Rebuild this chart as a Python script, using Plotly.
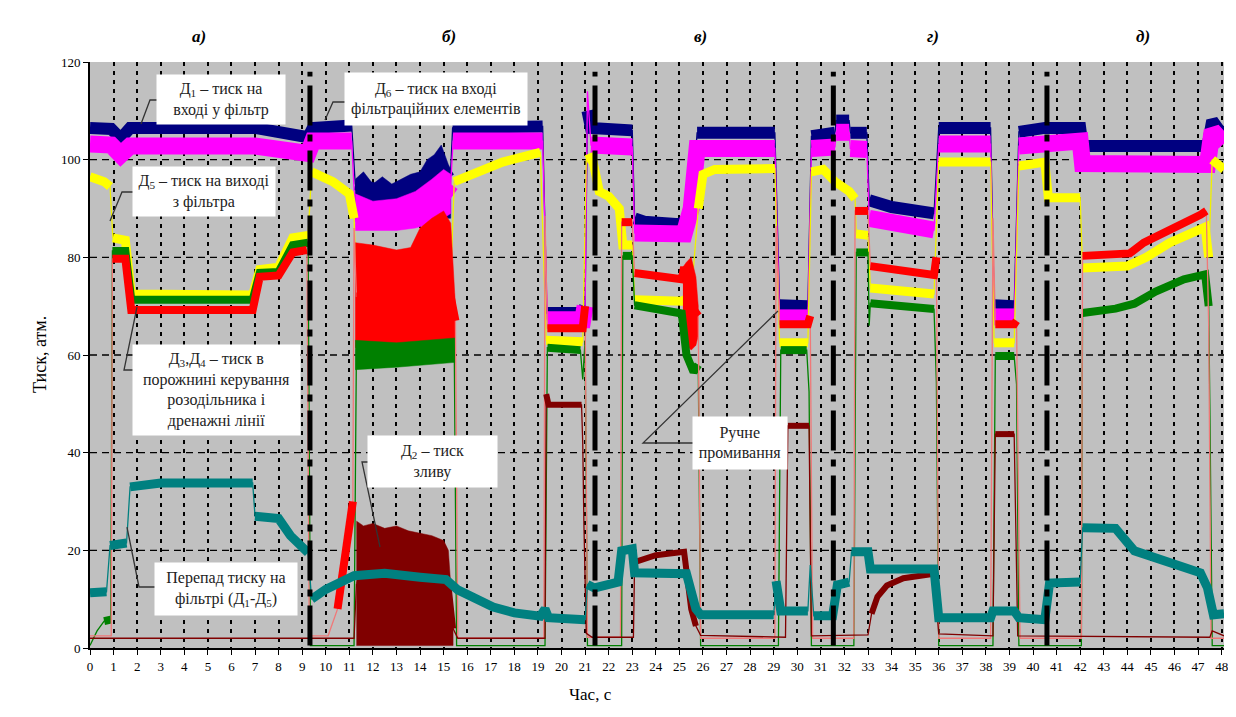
import plotly.graph_objects as go

# ---------------- data (time, s / pressure, atm) ----------------
NAVY_T = [0, 0.9, 1.3, 1.7, 7.0, 8.0, 9.25, 9.45, 11.1, 11.25, 13.0, 14.0, 15.0, 15.3, 15.38, 19.2, 19.38, 20.9, 21.0, 21.1, 21.25,
          23.0, 23.1, 23.5, 25.0, 25.4, 25.6, 25.75, 29.05, 29.25, 30.45, 30.6, 31.6, 31.65, 32.2, 32.25, 32.95, 33.05, 34.0,
          35.8, 36.0, 38.2, 38.35, 39.2, 39.4, 40.5, 42.0, 42.1, 47.4, 47.6, 47.9, 48.1]
NAVY_V = [106.5, 106.3, 104.3, 106.5, 106.5, 105.5, 104.6, 106.5, 107, 95, 93, 94, 97, 98, 106.5, 106.8, 68.6, 68.6, 70, 110, 106.5,
          106, 88, 87.3, 86.8, 88, 95, 105.5, 105.5, 70.2, 70, 104.8, 105.5, 108, 108, 105.5, 105.5, 91.7, 90.3,
          89, 106.5, 106.5, 70.2, 70, 105.7, 106.5, 106.5, 102.8, 102.8, 108, 106, 105.5]

MAGENTA_T = [0, 0.9, 1.3, 1.7, 7.0, 8.0, 9.25, 9.45, 11.1, 11.25, 13.0, 14.0, 15.0, 15.3, 15.4, 19.2, 19.4, 20.9, 21.0, 21.1, 21.25,
             23.0, 23.1, 25.2, 25.5, 25.75, 29.05, 29.25, 30.45, 30.6, 31.6, 31.65, 32.2, 32.25, 32.95, 33.05, 35.8, 36.0, 38.2,
             38.35, 39.2, 39.4, 42.0, 42.1, 47.4, 47.6, 47.9, 48.1]
MAGENTA_V = [103.2, 103.0, 101.0, 102.8, 102.8, 102.0, 101.3, 103.8, 103.8, 89, 88.5, 90, 93, 95, 103.8, 103.8, 67.2, 67.2, 70, 114, 103,
             102.6, 85, 84.8, 90, 102.3, 102.3, 67.6, 67.6, 102.3, 102.6, 105.6, 105.6, 102.3, 102.1, 88, 85.6, 103.2, 103.2,
             67.8, 67.8, 102.8, 103.8, 99.2, 99.0, 106, 104, 103.3]

YELLOW_T = [0, 0.6, 0.85, 0.97, 1.5, 1.75, 6.9, 7.2, 8.0, 8.6, 9.25, 9.4, 10.3, 11.0, 11.2, 11.3, 15.3, 15.45, 16.0, 17.5, 19.1,
            19.35, 20.9, 21.05, 21.3, 21.6, 22.0, 22.45, 22.6, 23.0, 23.1, 25.1, 25.5, 25.8, 26.0, 26.5, 29.05, 29.25, 30.45,
            30.6, 31.1, 31.6, 32.2, 32.45, 32.5, 33.0, 33.1, 35.8, 36.0, 38.2, 38.35, 39.2, 39.4, 40.5, 40.65, 42.0, 42.1,
            44.0, 44.8, 45.8, 47.3, 47.45, 47.6, 48.1]
YELLOW_V = [96.5, 95.5, 94.5, 84, 83.5, 72.5, 72.3, 77.5, 78, 84, 84.5, 97.5, 95.5, 93, 88, 75, 75, 95.5, 96.5, 99.5, 101.5,
            63, 62.7, 100, 100.5, 93.5, 92.5, 90, 82.5, 82.5, 71.3, 71, 72, 90, 97, 98, 98.2, 62.5, 62.5,
            97.5, 98, 95.5, 93.5, 92, 84.8, 84.5, 73.7, 72.5, 99.5, 99.5, 62.5, 62.5, 98.7, 99.5, 92.2, 92.2, 77.8,
            78.2, 80, 83, 86.2, 80, 100, 98]

GREEN_T = [0, 0.3, 0.6, 0.88, 0.95, 1.5, 1.75, 6.9, 7.2, 8.0, 8.6, 9.25, 9.35, 11.2, 11.3, 15.45, 15.55, 19.3, 19.4, 20.8,
           20.9, 21.0, 21.1, 22.55, 22.6, 23.0, 23.1, 24.0, 25.1, 25.3, 25.6, 25.8, 25.9, 29.2, 29.3, 30.4, 30.5, 30.6,
           32.4, 32.5, 33.0, 33.05, 33.1, 35.8, 35.9, 36.0, 38.3, 38.4, 39.2, 39.3, 39.4, 42.05, 42.1, 43.5, 44.3, 45.2,
           46.4, 47.3, 47.45, 47.5, 47.6, 48.1]
GREEN_V = [0.5, 3.5, 5.5, 5.8, 81.3, 81.3, 71.3, 71.3, 76.8, 77, 82.5, 83, 0.5, 0.5, 61, 61, 0.5, 0.5, 61.5, 61,
           55, 63, 0.5, 0.5, 80.3, 80.3, 70.2, 69.5, 68.5, 60, 56.5, 58, 0.5, 0.5, 61, 61, 52.5, 0.5,
           0.5, 81, 81, 66, 70.6, 69.4, 54.5, 0.5, 0.5, 59.8, 59.8, 54, 0.5, 0.5, 68.6, 69.5, 70.5, 73,
           75.5, 76.5, 70, 50, 0.5, 0.5]

RED_T = [0, 0.9, 0.95, 1.5, 1.75, 6.9, 7.2, 8.0, 8.6, 9.2, 9.3, 10.1, 10.5, 10.8, 11.15, 11.2, 11.3, 15.3, 15.5, 15.6,
         19.25, 19.3, 19.4, 20.9, 21.0, 21.1, 22.5, 22.55, 23.0, 23.1, 25.1, 25.2, 25.5, 25.8, 25.9, 29.05, 29.1, 29.25,
         30.45, 30.55, 30.65, 32.4, 32.45, 33.0, 33.1, 35.8, 35.9, 36.0, 38.2, 38.3, 38.4, 39.2, 39.3, 39.45, 42.05,
         42.1, 43.3, 44.1, 44.7, 45.8, 47.1, 47.35, 47.45, 47.55, 48.1]
RED_V = [2.5, 2.5, 79.7, 79.7, 69.2, 69.2, 76, 76.3, 81, 81.5, 2.5, 2.5, 8, 18, 30, 86, 72, 72, 67, 2,
         2, 88.5, 65.5, 65.5, 70, 2.2, 2.2, 87.2, 87.2, 76.8, 75.5, 78, 70, 68, 2, 2, 86.4, 66.3,
         66.3, 68, 2, 2, 89.5, 89.5, 78.2, 76.4, 80, 2, 2, 88, 66.3, 66.3, 67, 2, 2,
         80.3, 80.5, 80.8, 83, 85.5, 88.7, 89.5, 66, 2, 2]

DARKRED_T = [0, 11.2, 11.3, 15.2, 15.4, 15.6, 19.3, 19.35, 19.45, 20.85, 20.9, 20.95, 21.05, 21.3, 23.05, 23.1, 24.0, 25.2,
             25.3, 25.5, 25.7, 25.9, 29.5, 29.6, 30.5, 30.6, 33.0, 33.15, 33.4, 33.8, 34.5, 35.8, 36.0, 38.3, 38.4, 39.2,
             39.35, 47.5, 47.6, 48.1]
DARKRED_V = [2, 2, 13, 13, 4, 2, 2, 52, 49.8, 49.8, 42, 25.4, 3, 2.2, 2.2, 17.6, 19, 19.7,
             15, 8, 4.5, 2.6, 2.2, 45.5, 45.5, 2.5, 2.7, 7, 10.5, 12.8, 14.3, 15.2, 2.9, 2.5, 43.8, 43.8,
             2.5, 2.2, 3.5, 2.5]

TEAL_T = [0, 0.7, 0.85, 1.55, 1.7, 3.0, 6.9, 7.0, 8.0, 8.5, 9.25, 9.4, 10.0, 11.2, 12.5, 14.0, 15.1, 15.6, 16.5, 17.1,
          18.0, 19.1, 19.3, 19.45, 21.0, 21.1, 21.4, 22.4, 22.55, 23.0, 23.1, 25.3, 25.7, 25.9, 29.0, 29.1, 29.3, 30.45,
          30.55, 30.7, 31.5, 31.7, 32.2, 32.3, 33.0, 33.1, 35.8, 36.0, 38.2, 38.3, 39.2, 39.4, 40.5, 40.7, 42.0, 42.1,
          43.5, 44.3, 45.7, 47.1, 47.4, 47.65, 48.1]
TEAL_V = [11.3, 11.5, 21, 21.5, 33, 33.8, 33.8, 27, 26.5, 23, 19.5, 10, 12, 14.8, 15.3, 14.5, 14, 11.9, 10, 8.4,
          7.2, 6.5, 8, 6.2, 5.8, 13, 12.3, 13.5, 19.9, 20.3, 15.4, 15.2, 8, 6.8, 6.8, 13.7, 7.6, 7.6,
          17, 6.6, 6.6, 12.9, 13.5, 19.7, 19.7, 16.2, 16.2, 6.2, 6.2, 7.6, 7.6, 6.2, 5.8, 13.3, 13.5, 24.6,
          24.5, 19.9, 17.6, 15.4, 12.3, 6.8, 7]

# noisy envelopes in section b) (upper edge, then lower edge)
NAVY_B_UP_T = [11.25, 11.6, 12.0, 12.4, 12.8, 13.2, 13.6, 14.0, 14.3, 14.6, 14.9, 15.2, 15.3]
NAVY_B_UP_V = [96, 97.5, 95, 96.5, 95, 96, 97, 97.5, 100, 101, 103, 99, 98]
NAVY_B_LO_T = [15.3, 11.25]
NAVY_B_LO_V = [88, 88]

MAG_B_UP_T = [11.25, 12.0, 13.0, 13.8, 14.5, 15.0, 15.3]
MAG_B_UP_V = [93, 91.5, 92, 93.5, 96, 98, 97]
MAG_B_LO_T = [15.3, 15.0, 14.5, 13.8, 13.0, 12.0, 11.25]
MAG_B_LO_V = [89, 88, 87, 86, 85.5, 85.5, 85.5]

RED_B_UP_T = [11.25, 12.0, 13.0, 13.6, 14.0, 14.5, 15.0, 15.3, 15.5]
RED_B_UP_V = [83, 82.5, 81.5, 82, 86, 88, 89.5, 87, 70]
RED_B_LO_T = [15.5, 11.25]
RED_B_LO_V = [63, 61.5]

RED_C_UP_T = [25.15, 25.3, 25.5, 25.7, 25.8]
RED_C_UP_V = [78, 79, 80, 76, 70]
RED_C_LO_T = [25.8, 25.7, 25.5, 25.3, 25.15]
RED_C_LO_V = [64, 62, 61, 62, 68]

GREEN_B_UP_T = [11.25, 13.0, 15.5]
GREEN_B_UP_V = [63, 62.5, 63.5]
GREEN_B_LO_T = [15.5, 13.0, 11.25]
GREEN_B_LO_V = [58.5, 57.5, 57]

DARKRED_B_UP_T = [11.3, 11.6, 12.0, 12.5, 13.0, 13.5, 14.0, 14.5, 15.0, 15.2, 15.4]
DARKRED_B_UP_V = [26, 25, 25.5, 24.5, 25, 24, 23.5, 23, 22, 20, 6]
DARKRED_B_LO_T = [15.4, 11.3]
DARKRED_B_LO_V = [0.5, 0.5]

SECTION_BOUNDS = [9.33, 21.42, 31.53, 40.59]
SECTION_LABELS = ["а)", "б)", "в)", "г)", "д)"]
X_TICKS = list(range(0, 49))
Y_TICKS = [0, 20, 40, 60, 80, 100, 120]

# ---------------- layout helpers (page pixel -> paper) ----------------
PAGE_OFF = 8                      # default body margin of the html page
W, H = 1236, 717
L, R, T, B = 90, 1224, 62, 648    # plot area in page pixels
def pxx(x):
    return (x - L) / (R - L)
def pxy(y):
    return (B - y) / (B - T)

def thick_parts(ts, vs, floor):
    xs, ys = [], []
    for i in range(len(ts)):
        if i > 0:
            dt = ts[i] - ts[i - 1]
            dv = abs(vs[i] - vs[i - 1])
            if dv > 50 * dt or vs[i] < floor or vs[i - 1] < floor:
                xs.append(None)
                ys.append(None)
        xs.append(ts[i])
        ys.append(vs[i])
    return xs, ys

fig = go.Figure()

def band(ut, uv, lt, lv, color):
    fig.add_trace(go.Scatter(x=ut + lt, y=uv + lv, mode="lines", fill="toself", fillcolor=color,
                             line=dict(width=0.5, color=color), hoverinfo="skip", showlegend=False))

def series(ts, vs, color, thin_color, width, floor=4):
    fig.add_trace(go.Scatter(x=ts, y=vs, mode="lines", line=dict(color=thin_color, width=1.3),
                             hoverinfo="skip", showlegend=False))
    xs, ys = thick_parts(ts, vs, floor)
    fig.add_trace(go.Scatter(x=xs, y=ys, mode="lines", line=dict(color=color, width=width),
                             connectgaps=False, hoverinfo="skip", showlegend=False))

NAVY, MAG, YEL, GRN, RED, DRED, TEAL = "#000080", "#ff00ff", "#ffff00", "#008000", "#ff0000", "#800000", "#008080"

band(NAVY_B_UP_T, NAVY_B_UP_V, NAVY_B_LO_T, NAVY_B_LO_V, NAVY)
series(NAVY_T, NAVY_V, NAVY, NAVY, 12)
band(MAG_B_UP_T, MAG_B_UP_V, MAG_B_LO_T, MAG_B_LO_V, MAG)
series(MAGENTA_T, MAGENTA_V, MAG, MAG, 17)
series(YELLOW_T, YELLOW_V, YEL, "#f0f000", 9)
band(RED_B_UP_T, RED_B_UP_V, RED_B_LO_T, RED_B_LO_V, RED)
band(RED_C_UP_T, RED_C_UP_V, RED_C_LO_T, RED_C_LO_V, RED)
band(GREEN_B_UP_T, GREEN_B_UP_V, GREEN_B_LO_T, GREEN_B_LO_V, GRN)
series(GREEN_T, GREEN_V, GRN, GRN, 8)
series(RED_T, RED_V, RED, "#f07878", 8)
band(DARKRED_B_UP_T, DARKRED_B_UP_V, DARKRED_B_LO_T, DARKRED_B_LO_V, DRED)
series(DARKRED_T, DARKRED_V, DRED, DRED, 6)
series(TEAL_T, TEAL_V, TEAL, TEAL, 9, floor=0)

# horizontal dashed grid (no line at the top edge)
for yv in Y_TICKS[1:-1]:
    fig.add_shape(type="line", xref="paper", yref="y", x0=0, x1=1, y0=yv, y1=yv, layer="below",
                  line=dict(color="black", width=1.3, dash="7px,5px"))

# section boundaries: dash-dot lines with diamonds
for xb in SECTION_BOUNDS:
    fig.add_shape(type="line", xref="x", yref="y", x0=xb, x1=xb, y0=0.5, y1=118,
                  line=dict(color="black", width=5, dash="40px,9px,7px,9px"))
fig.add_trace(go.Scatter(x=SECTION_BOUNDS * 2, y=[121.5] * 4 + [-2.1] * 4, mode="markers",
                         marker=dict(symbol="diamond-tall", size=13, color="black"),
                         cliponaxis=False, hoverinfo="skip", showlegend=False))

SERIF = "Liberation Serif"
ann = []
for lab, xp in zip(SECTION_LABELS, [190, 440, 700, 941, 1152]):
    ann.append(dict(x=pxx(xp), y=pxy(25), xref="paper", yref="paper", text="<b><i>" + lab + "</i></b>",
                    showarrow=False, font=dict(family=SERIF, size=17, color="black")))

boxes = [
    ("Д<sub>1</sub> – тиск на<br>вході у фільтр", 221, 100, 128, 49),
    ("Д<sub>5</sub> – тиск на виході<br>з фільтра", 204, 192, 142, 49),
    ("Д<sub>3</sub>,Д<sub>4</sub> – тиск в<br>порожнині керування<br>розодільника і<br>дренажні лінії", 216, 390, 167, 90),
    ("Перепад тиску на<br>фільтрі (Д<sub>1</sub>-Д<sub>5</sub>)", 226, 589, 142, 52),
    ("Д<sub>6</sub> – тиск на вході<br>фільтраційних елементів", 436, 99, 182, 52),
    ("Д<sub>2</sub> – тиск<br>зливу", 432, 462, 129, 51),
    ("Ручне<br>промивання", 740, 443, 94, 52),
]
for text, cx, cy, w, h in boxes:
    ann.append(dict(x=pxx(cx), y=pxy(cy), xref="paper", yref="paper", text=text, showarrow=False,
                    xanchor="center", yanchor="middle", width=w, height=h, bgcolor="white",
                    borderpad=0, align="center", valign="middle",
                    font=dict(family=SERIF, size=16, color="#222222")))

ann.append(dict(x=pxx(28), y=pxy(355), xref="paper", yref="paper", text="Тиск, атм.", textangle=-90,
                showarrow=False, font=dict(family=SERIF, size=18, color="black")))
ann.append(dict(x=pxx(590), y=pxy(706), xref="paper", yref="paper", text="Час, с",
                showarrow=False, font=dict(family=SERIF, size=17, color="black")))

connectors = [
    [(141, 124), (150, 100), (157, 100)],
    [(110, 221), (122, 192), (133, 192)],
    [(137, 307), (124, 370), (133, 370)],
    [(127, 527), (139, 587), (155, 587)],
    [(325, 120), (333, 102), (345, 102)],
    [(380, 547), (362, 462), (368, 462)],
    [(778, 311), (643, 443), (693, 443)],
]
for pts in connectors:
    path = "M " + " L ".join(f"{pxx(a):.5f},{pxy(b):.5f}" for a, b in pts)
    fig.add_shape(type="path", xref="paper", yref="paper", path=path, line=dict(color="#333333", width=1.3))

fig.update_layout(
    width=W, height=H, autosize=False,
    margin=dict(l=L - PAGE_OFF, r=W - (R - PAGE_OFF), t=T - PAGE_OFF, b=H - (B - PAGE_OFF)),
    paper_bgcolor="white", plot_bgcolor="#c0c0c0",
    annotations=ann, showlegend=False,
)
fig.update_xaxes(range=[0, 48.1], tickvals=X_TICKS, ticktext=[str(v) for v in X_TICKS],
                 showgrid=True, gridcolor="black", gridwidth=1.6, griddash="4px,5px",
                 showline=True, linecolor="black", linewidth=2, ticks="outside", ticklen=5, tickcolor="black",
                 tickfont=dict(family=SERIF, size=13, color="black"), zeroline=False)
fig.update_yaxes(range=[0, 120], tickvals=Y_TICKS, ticktext=[str(v) for v in Y_TICKS],
                 showgrid=False,
                 showline=True, linecolor="black", linewidth=2, ticks="outside", ticklen=5, tickcolor="black",
                 tickfont=dict(family=SERIF, size=13, color="black"), zeroline=False)

fig.write_html("out.html")
